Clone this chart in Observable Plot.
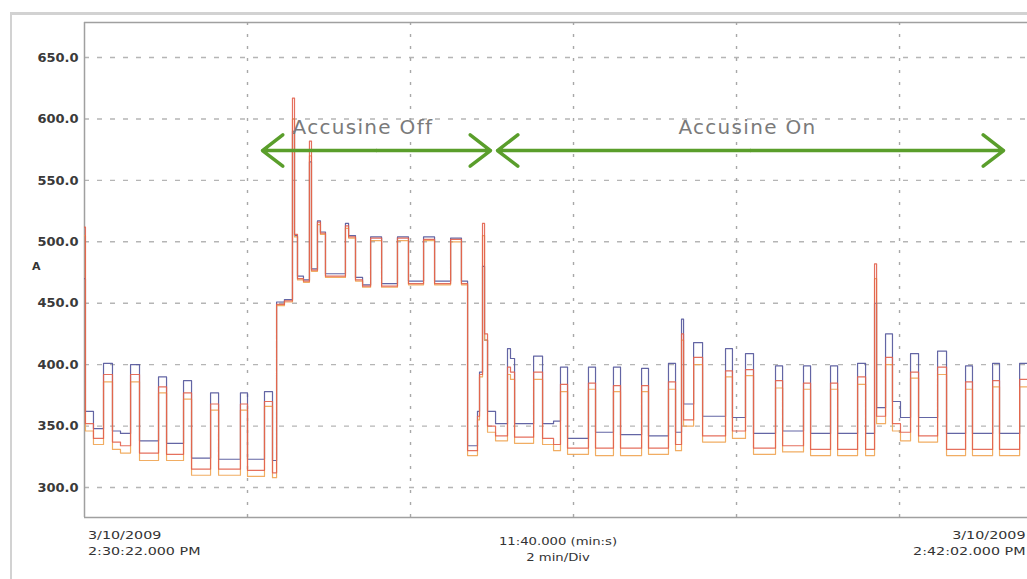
<!DOCTYPE html>
<html>
<head>
<meta charset="utf-8">
<script src="https://cdn.jsdelivr.net/npm/d3@7"></script>
<script src="https://cdn.jsdelivr.net/npm/@observablehq/plot@0.6"></script>
<style>
  html, body { margin: 0; padding: 0; background: #fff; overflow: hidden; }
  #wrap { position: relative; width: 1027px; height: 579px; overflow: hidden; }
  #outer { position: absolute; left: 10px; top: 12px; width: 1100px; height: 700px;
           border-top: 3px solid #d2d2d2; border-left: 2px solid #d2d2d2; box-sizing: border-box; }
  #chart { position: absolute; left: 0; top: 0; }
  .xl { position: absolute; font-family: "DejaVu Sans", sans-serif; font-size: 11px; line-height: 16px;
        color: #333; white-space: nowrap; }
  #ylab { position: absolute; left: 32px; top: 260px; font: bold 11px "DejaVu Sans", sans-serif; color: #333; }
  g[aria-label="text"] text { letter-spacing: 1.3px; }
</style>
</head>
<body>
<div id="wrap">
  <div id="outer"></div>
  <div id="chart"></div>
  <div id="ylab">A</div>
</div>
<script>
// ---- data (time in seconds from 2:30:22 PM, current in A) ----
const t = [0, 0.7, 6.6, 14.0, 20.6, 26.5, 33.9, 40.5, 54.5, 60.4, 72.9, 78.8, 92.8, 98.7, 114.8, 120.0, 132.5, 138.4,
  141.4, 147.2, 153.1, 154.6, 156.8, 161.2, 165.6, 167.1, 171.5, 173.7, 177.4, 192.1, 194.4, 199.5, 204.7, 210.6,
  218.7, 230.4, 238.5, 249.6, 257.7, 269.5, 277.5, 282.0, 289.3, 290.8, 293.0, 294.5, 296.7, 302.6, 311.4, 313.6,
  316.6, 330.6, 337.2, 345.3, 350.4, 355.6, 371.0, 376.2, 389.4, 394.6, 410.1, 415.2, 429.9, 435.1, 439.5, 441.0,
  448.4, 455.0, 471.9, 477.0, 486.6, 492.5, 508.7, 513.9, 529.3, 534.5, 549.2, 554.4, 569.1, 575.0, 581.6, 583.1,
  589.7, 594.8, 600.7, 608.1, 614.0, 628.0, 634.6, 648.6, 653.7, 668.5, 673.6, 688.4, 694.2];
const phaseBlue = [470, 362, 348, 401, 346, 344, 400, 338, 390, 336, 387, 324, 377, 323, 377, 323, 378, 322,
  451, 453, 590, 505, 472, 469, 565, 478, 517, 508, 474, 515, 505, 471, 465, 504,
  466, 504, 468, 504, 468, 503, 468, 334, 362, 394, 480, 420, 362, 352, 413, 405,
  352, 407, 352, 354, 398, 340, 398, 345, 398, 343, 397, 342, 401, 345, 437, 368,
  418, 358, 413, 357, 409, 344, 399, 346, 399, 344, 399, 344, 401, 344, 450, 365,
  425, 370, 357, 409, 357, 411, 344, 399, 344, 401, 344, 401, 401];
const phaseRed = [512, 352, 340, 392, 337, 334, 392, 328, 382, 327, 377, 315, 368, 315, 368, 314, 370, 312,
  449, 452, 617, 506, 470, 468, 582, 477, 516, 507, 472, 513, 504, 469, 464, 503,
  464, 503, 466, 502, 466, 502, 466, 330, 358, 392, 515, 425, 350, 342, 398, 394,
  341, 394, 340, 335, 384, 332, 385, 332, 383, 332, 383, 332, 386, 335, 425, 355,
  406, 342, 395, 346, 396, 332, 387, 334, 385, 331, 385, 331, 390, 331, 482, 358,
  406, 352, 345, 394, 342, 398, 331, 386, 331, 387, 331, 388, 388];
const phaseOrange = [505, 346, 335, 386, 331, 328, 386, 322, 377, 322, 372, 310, 363, 310, 363, 309, 366, 308,
  448, 451, 600, 504, 469, 467, 570, 476, 514, 506, 471, 511, 503, 468, 463, 501,
  463, 501, 465, 501, 465, 500, 465, 326, 355, 390, 505, 420, 345, 338, 392, 388,
  336, 388, 335, 330, 378, 327, 380, 326, 378, 326, 378, 327, 380, 330, 420, 350,
  400, 337, 390, 340, 391, 327, 381, 329, 380, 326, 380, 326, 384, 326, 470, 352,
  400, 346, 338, 389, 337, 392, 326, 380, 326, 382, 326, 382, 382];

const yTicks = [300, 350, 400, 450, 500, 550, 600, 650];
const xGrid = [120, 240, 360, 480, 600];           // 2 min/div
const annotLabels = ["Accusine Off", "Accusine On"];
const annotCenter = [205, 488];
const annotFrom = [131.0, 304.0];
const annotTo = [298.9, 676.6];
const startLabel = ["3/10/2009", "2:30:22.000 PM"];
const midLabel = ["11:40.000 (min:s)", "2 min/Div"];
const endLabel = ["3/10/2009", "2:42:02.000 PM"];

// ---- build tables ----
const rows = [];
t.forEach((tt, i) => rows.push({t: tt, v: phaseBlue[i], s: "phase 1"}));
t.forEach((tt, i) => rows.push({t: tt, v: phaseOrange[i], s: "phase 3"}));
t.forEach((tt, i) => rows.push({t: tt, v: phaseRed[i], s: "phase 2"}));

const yDom = [275.6, 678.5];
const xDom = [0, 694.2];
const arrowY = 574.3, textY = 593;
const arrows = [];
annotLabels.forEach((l, i) => {
  const mid = (annotFrom[i] + annotTo[i]) / 2;
  arrows.push({x1: mid, x2: annotFrom[i]});
  arrows.push({x1: mid, x2: annotTo[i]});
});
const texts = annotLabels.map((l, i) => ({t: annotCenter[i], label: l}));

const chart = Plot.plot({
  width: 1027, height: 579,
  marginLeft: 84, marginRight: 0, marginTop: 22, marginBottom: 62,
  style: {fontFamily: "DejaVu Sans", background: "transparent", overflow: "visible"},
  x: {domain: xDom, axis: null},
  y: {domain: yDom},
  color: {domain: ["phase 1", "phase 2", "phase 3"], range: ["#52549a", "#e2604c", "#f0a452"]},
  marks: [
    Plot.ruleY(yTicks, {stroke: "#b5b5b5", strokeWidth: 1.4, strokeDasharray: "5,8"}),
    Plot.ruleX(xGrid, {stroke: "#a8a8a8", strokeWidth: 1.4, strokeDasharray: "3,9"}),
    Plot.ruleX([xDom[0]], {stroke: "#a0a0a0", strokeWidth: 1.5}),
    Plot.ruleY(yDom, {stroke: "#a0a0a0", strokeWidth: 1.5}),
    Plot.axisY({ticks: yTicks, tickSize: 0, tickPadding: 6, tickFormat: d => d.toFixed(1),
                fontSize: 13, fontWeight: "bold", fill: "#3a3a3a", label: null}),
    Plot.line(rows, {x: "t", y: "v", z: "s", stroke: "s", curve: "step-after", strokeWidth: 1.2, strokeOpacity: 0.9}),
    Plot.arrow(arrows, {x1: "x1", x2: "x2", y1: () => arrowY, y2: () => arrowY,
                        stroke: "#5a9e2b", strokeWidth: 3.5, headLength: 11, headAngle: 75}),
    Plot.text(texts, {x: "t", y: () => textY, text: "label", fontSize: 20, fill: "#7a7a7a"})
  ]
});
document.getElementById("chart").appendChild(chart);

function addLabel(lines, css) {
  const d = document.createElement("div");
  d.className = "xl";
  d.innerHTML = lines.join("<br>");
  Object.assign(d.style, css);
  document.getElementById("wrap").appendChild(d);
}
addLabel(startLabel, {left: "88px", top: "528px", transform: "scaleX(1.3)", transformOrigin: "left top"});
addLabel(midLabel, {left: "558px", top: "534px", textAlign: "center", transform: "translateX(-50%) scaleX(1.2)"});
addLabel(endLabel, {right: "1px", top: "528px", textAlign: "right", transform: "scaleX(1.3)", transformOrigin: "right top"});
</script>
</body>
</html>
